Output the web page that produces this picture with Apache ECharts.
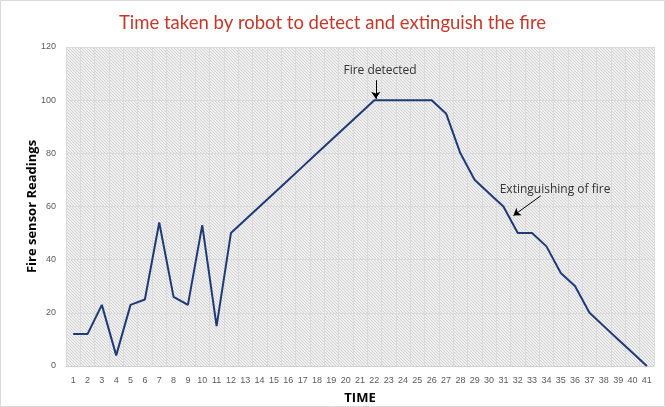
<!DOCTYPE html>
<html><head><meta charset="utf-8">
<script src="https://cdn.jsdelivr.net/npm/echarts@6/dist/echarts.min.js"></script>
<style>html,body{margin:0;padding:0;background:#fff}#c{width:665px;height:407px}</style>
</head><body><div id="c"></div>
<script>
const categories = ['1','2','3','4','5','6','7','8','9','10','11','12','13','14','15','16','17','18','19','20','21','22','23','24','25','26','27','28','29','30','31','32','33','34','35','36','37','38','39','40','41'];
const readings = [12,12,23,4,23,25,54,26,23,53,15,50,55,60,65,70,75,80,85,90,95,100,100,100,100,100,95,80,70,65,60,50,50,45,35,30,20,15,10,5,0];
const yTicks = {min:0, max:120, interval:20};

// hatch pattern
const pc = document.createElement('canvas');
pc.width = 3; pc.height = 3;
const pctx = pc.getContext('2d');
pctx.fillStyle = '#f0f0f0'; pctx.fillRect(0,0,3,3);
pctx.fillStyle = '#d2d2d2';
for (let i = 0; i < 3; i++) pctx.fillRect(i, i, 1, 1);

const chart = echarts.init(document.getElementById('c'));
chart.setOption({
  backgroundColor:'#fff',
  animation:false,
  title:{text:'Time taken by robot to detect and extinguish the fire', left:'center', top:9,
    textStyle:{color:'#c0392b', fontFamily:'Lato', fontWeight:'normal', fontSize:18.5}},
  graphic:[{type:'rect', shape:{x:0.5,y:0.5,width:664,height:406}, style:{fill:null, stroke:'#d9d9d9'}, silent:true}],
  grid:{left:66, right:11, top:47, bottom:41, show:true, outerBoundsMode:'none', containLabel:false,
    backgroundColor:{image:pc, repeat:'repeat'}, borderWidth:0},
  xAxis:[{type:'category', data:categories, boundaryGap:true,
    name:'TIME', nameLocation:'middle', nameGap:26, nameMoveOverlap:false,
    nameTextStyle:{fontWeight:'bold', fontSize:13, color:'#000', fontFamily:'Open Sans'},
    axisLine:{lineStyle:{color:'#d0d0d0'}}, axisTick:{show:false},
    axisLabel:{color:'#595959', fontSize:9, interval:0, margin:10},
    splitLine:{show:true, interval:0, lineStyle:{color:'#dadada', width:1}}},
    {type:'value', min:-0.5, max:categories.length-0.5, show:false}],
  yAxis:{type:'value', min:yTicks.min, max:yTicks.max, interval:yTicks.interval,
    name:'Fire sensor Readings', nameLocation:'middle', nameGap:27, nameMoveOverlap:false,
    nameTextStyle:{fontWeight:'bold', fontSize:13, color:'#000', fontFamily:'Open Sans'},
    axisLine:{show:false}, axisTick:{show:false},
    axisLabel:{color:'#595959', fontSize:9, margin:10},
    splitLine:{lineStyle:{color:'#dadada'}}},
  series:[{type:'line', data:readings, symbol:'none', lineStyle:{color:'#1f3a78', width:2}},
    {type:'scatter', xAxisIndex:1, data:[], silent:true,
    markLine:{silent:true, symbol:['none','arrow'], symbolSize:7, label:{show:false},
      lineStyle:{color:'#000', width:1, type:'solid'},
      data:[
        [{coord:[21.1,107.5]},{coord:[21.1,100.5]}],
        [{coord:[32.6,64]},{coord:[30.7,56.6]}]
      ]},
    markPoint:{symbol:'circle', symbolSize:1, silent:true, itemStyle:{color:'rgba(0,0,0,0)'},
      label:{show:true, position:'inside', color:'#333', fontSize:12, fontFamily:'Open Sans'},
      data:[
        {coord:[21.4,111], label:{formatter:'Fire detected'}},
        {coord:[33.6,66.5], label:{formatter:'Extinguishing of fire'}}
      ]}
  }]
});
</script></body></html>
